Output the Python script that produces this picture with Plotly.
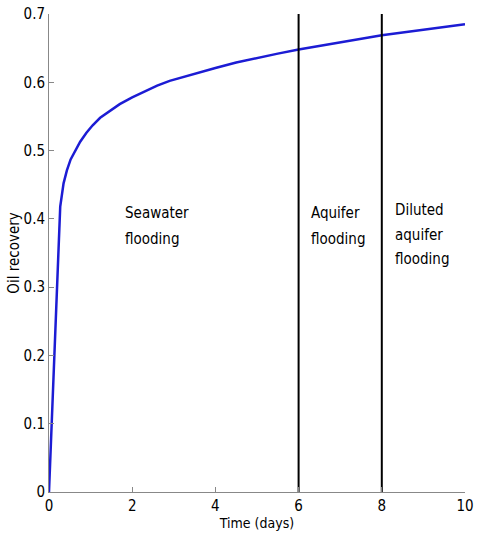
import plotly.graph_objects as go

time_days = [0, 0.27, 0.35, 0.43, 0.52, 0.63, 0.75, 0.9, 1.05, 1.23, 1.45, 1.7, 2.0, 2.3,
             2.6, 2.9, 3.4, 4, 4.5, 5, 5.5, 6, 7, 8, 9, 10]
oil_recovery = [0, 0.418, 0.452, 0.471, 0.487, 0.5, 0.513, 0.526, 0.537, 0.548, 0.558, 0.568,
                0.578, 0.587, 0.595, 0.602, 0.611, 0.621, 0.629, 0.636, 0.642, 0.648, 0.659,
                0.669, 0.677, 0.685]

switch_times = [6, 8]
y_range = [0, 0.7]
x_range = [0, 10]
x_ticks = [0, 2, 4, 6, 8, 10]
y_ticks = [0, 0.1, 0.2, 0.3, 0.4, 0.5, 0.6, 0.7]
y_ticktext = ["0", "0.1", "0.2", "0.3", "0.4", "0.5", "0.6", "0.7"]

# region labels, one entry per text line
label_lines = ["Seawater", "flooding", "Aquifer", "flooding", "Diluted", "aquifer", "flooding"]
label_x = [1.78, 1.78, 6.26, 6.26, 8.26, 8.26, 8.26]
label_y = [0.408, 0.371, 0.408, 0.371, 0.413, 0.377, 0.341]

FONT = "DejaVu Sans Condensed, Liberation Sans Narrow, Arial Narrow, sans-serif"

fig = go.Figure()
fig.add_trace(go.Scatter(x=time_days, y=oil_recovery, mode="lines",
                         line=dict(color="#1c1cd4", width=2.5),
                         showlegend=False))
for t in switch_times:
    fig.add_trace(go.Scatter(x=[t, t], y=y_range, mode="lines",
                             line=dict(color="black", width=2), showlegend=False))

for txt, lx, ly in zip(label_lines, label_x, label_y):
    fig.add_annotation(x=lx, y=ly, text=txt, showarrow=False, xanchor="left", yanchor="middle",
                       align="left", font=dict(size=15, color="black", family=FONT))

fig.update_layout(
    width=477, height=546,
    margin=dict(l=49, r=12, t=14, b=54),
    paper_bgcolor="white", plot_bgcolor="white",
    font=dict(family=FONT, size=15, color="black"),
)
fig.update_xaxes(range=x_range, tickvals=x_ticks, ticks="inside", ticklen=5, tickcolor="#888",
                 showline=True, linecolor="#888", linewidth=1, showgrid=False, zeroline=False,
                 automargin=False,
                 title=dict(text="Time (days)", standoff=2, font=dict(size=14)))
fig.update_yaxes(range=y_range, tickvals=y_ticks, ticktext=y_ticktext,
                 ticks="inside", ticklen=5, tickcolor="#888",
                 showline=True, linecolor="#888", linewidth=1, showgrid=False, zeroline=False,
                 automargin=False,
                 title=dict(text="Oil recovery", standoff=0, font=dict(size=15)))

fig.write_html("out.html")
